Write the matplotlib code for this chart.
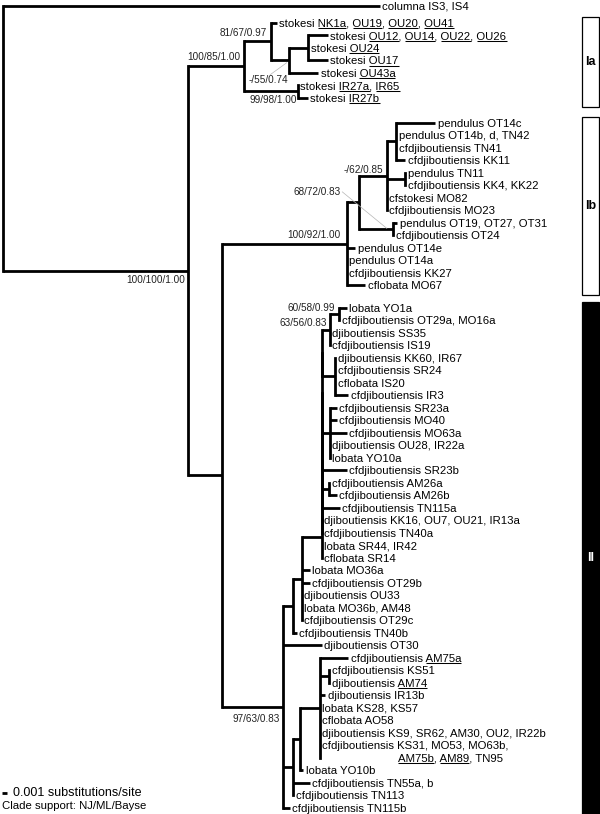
import matplotlib
matplotlib.use("Agg")
import matplotlib.pyplot as plt
from matplotlib.collections import LineCollection
from matplotlib.patches import Rectangle

plt.rcParams["font.family"] = ["Liberation Sans", "DejaVu Sans"]

W, H = 600, 814
PX = 5.0      # pixels per 0.001 substitutions/site
ROW = 12.5    # pixels per leaf row
X0, Y0 = 3.0, 6.0
FS_LEAF, FS_SUP, LW = 8.2, 7.2, 2.0


def leaf(label, bl=0.0):
    return {"label": label, "bl": bl}


def node(bl, kids, key=None, gap=0.0):
    return {"bl": bl, "kids": kids, "key": key, "gap": gap}


def caterpillar(bl, kids, tail):
    # zero-length resolution of a polytomy, as written out by the tree program
    n = kids[0]
    for k in kids[1:]:
        n = node(0.0, [n, k])
    return node(bl, [n] + tail)


# branch lengths in 0.001 substitutions/site; "_x_" = underlined code
COLUMNA = leaf("columna IS3, IS4", 75.4)

IA = node(11.2, [
    node(5.34, [
        leaf("stokesi _NK1a_, _OU19_, _OU20_, _OU41_", 1.2),
        node(3.72, [
            node(3.74, [leaf("stokesi _OU12_, _OU14_, _OU22_, _OU26_", 4.0),
                        leaf("stokesi _OU24_"),
                        leaf("stokesi _OU17_", 4.0)]),
            leaf("stokesi _OU43a_", 5.74)], key="ia2")], key="ia1"),
    node(10.8, [leaf("stokesi _IR27a_, _IR65_"),
                leaf("stokesi _IR27b_", 2.0)], key="ia3"),
], key="Ia", gap=0.33)

IB = node(25.0, [
    node(2.52, [
        node(5.48, [
            node(1.86, [leaf("pendulus OT14c", 7.8),
                        leaf("pendulus OT14b, d, TN42"),
                        leaf("cfdjiboutiensis TN41"),
                        leaf("cfdjiboutiensis KK11", 1.8)]),
            node(3.66, [leaf("pendulus TN11"),
                        leaf("cfdjiboutiensis KK4, KK22")]),
            leaf("cfstokesi MO82"),
            leaf("cfdjiboutiensis MO23")], key="ib2"),
        node(6.8, [leaf("pendulus OT19, OT27, OT31", 0.8),
                   leaf("cfdjiboutiensis OT24")], key="ib1")]),
    leaf("pendulus OT14e", 1.66),
    leaf("pendulus OT14a"),
    leaf("cfdjiboutiensis KK27"),
    leaf("cflobata MO67", 3.66),
], key="Ib", gap=1.0)

II_UPPER = caterpillar(3.94, [
    node(1.66, [
        node(1.86, [leaf("lobata YO1a", 1.48),
                    leaf("cfdjiboutiensis OT29a, MO16a")], key="ii2"),
        leaf("djiboutiensis SS35"),
        leaf("cfdjiboutiensis IS19")], key="ii1"),
    node(2.66, [leaf("djiboutiensis KK60, IR67"),
                leaf("cfdjiboutiensis SR24"),
                leaf("cflobata IS20"),
                leaf("cfdjiboutiensis IR3", 2.66)]),
    node(1.66, [leaf("cfdjiboutiensis SR23a", 1.34),
                leaf("cfdjiboutiensis MO40", 1.34),
                leaf("cfdjiboutiensis MO63a", 3.34),
                leaf("djiboutiensis OU28, IR22a"),
                leaf("lobata YO10a")]),
    leaf("cfdjiboutiensis SR23b", 5.0),
    node(1.52, [leaf("cfdjiboutiensis AM26a"),
                leaf("cfdjiboutiensis AM26b", 1.48)]),
    leaf("cfdjiboutiensis TN115a", 3.66),
    leaf("djiboutiensis KK16, OU7, OU21, IR13a"),
    leaf("cfdjiboutiensis TN40a")],
    [leaf("lobata SR44, IR42"), leaf("cflobata SR14")])

II_LOWER = node(2.0, [
    node(1.34, [
        node(4.0, [
            leaf("cfdjiboutiensis _AM75a_", 5.66),
            node(1.86, [leaf("cfdjiboutiensis KS51"),
                        leaf("djiboutiensis _AM74_")]),
            leaf("djiboutiensis IR13b", 1.0),
            leaf("lobata KS28, KS57"),
            leaf("cflobata AO58"),
            leaf("djiboutiensis KS9, SR62, AM30, OU2, IR22b"),
            leaf("cfdjiboutiensis KS31, MO53, MO63b,\n_AM75b_, _AM89_, TN95")]),
        leaf("lobata YO10b", 0.66)]),
    leaf("cfdjiboutiensis TN55a, b", 3.34),
    leaf("cfdjiboutiensis TN113")])

II = node(12.32, [
    node(2.0, [
        node(1.74, [II_UPPER,
                    leaf("lobata MO36a", 1.6),
                    leaf("cfdjiboutiensis OT29b", 1.6),
                    leaf("djiboutiensis OU33"),
                    leaf("lobata MO36b, AM48"),
                    leaf("cfdjiboutiensis OT29c")]),
        leaf("cfdjiboutiensis TN40b", 0.68)]),
    leaf("djiboutiensis OT30", 7.68),
    II_LOWER,
    leaf("cfdjiboutiensis TN115b", 1.34),
], key="II", gap=0.8)

TREE = node(0.0, [COLUMNA, node(37.0, [IA, node(6.74, [IB, II])], key="in")])

SUPPORT = {"in": "100/100/1.00", "Ia": "100/85/1.00", "ia1": "81/67/0.97",
           "ia2": "-/55/0.74", "ia3": "99/98/1.00", "Ib": "100/92/1.00",
           "ib1": "68/72/0.83", "ib2": "-/62/0.85", "ii1": "63/56/0.83",
           "ii2": "60/58/0.99", "II": "97/63/0.83"}
CLADES = [("Ia", IA, "white", "black"), ("Ib", IB, "white", "black"),
          ("II", II, "black", "white")]
SCALE_BAR = 1.0

# label placement (pixels from node: right edge, vertical centre)
SUP_POS = {"in": (-3, 9), "Ia": (-4, -9.5), "ia1": (-4, -8), "ia2": (-1.5, 20),
           "ia3": (-1, 8.7), "Ib": (-6.5, -8.5), "ib1": (-53, -37), "ib2": (-3.7, -6),
           "ii1": (-3, -7), "ii2": (-4, -6), "II": (-3, 12)}
LEADERS = {"ia2": ((-19, 14.5), (-2.6, 2.6)), "ib1": ((-51, -37), (-6.5, -0.5))}


def layout(n, x, rows):
    n["x"] = x + n["bl"]
    rows[0] += n.get("gap", 0.0)
    if "kids" in n:
        for k in n["kids"]:
            layout(k, n["x"], rows)
        n["y"] = (n["kids"][0]["y"] + n["kids"][-1]["y"]) / 2
    else:
        extra = n["label"].count("\n")
        n["y"] = rows[0] + extra      # tip sits on the last line of its label
        rows[0] += extra + 1


def walk(n):
    yield n
    for k in n.get("kids", []):
        yield from walk(k)


layout(TREE, 0.0, [0.0])
nodes = {n["key"]: n for n in walk(TREE) if n.get("key")}

fig = plt.figure(figsize=(W / 100, H / 100), dpi=100)
ax = fig.add_axes([0, 0, 1, 1])
ax.set_xlim(-X0 / PX, (W - X0) / PX)
ax.set_ylim((H - Y0) / ROW, -Y0 / ROW)
ax.axis("off")
r = fig.canvas.get_renderer()


def px2x(p):
    return (p - X0) / PX


def py2y(p):
    return (p - Y0) / ROW


def text_w(s, fs):
    t = ax.text(0, 0, s + "|", fontsize=fs); a = t.get_window_extent(r).width; t.remove()
    t = ax.text(0, 0, "|", fontsize=fs); b = t.get_window_extent(r).width; t.remove()
    return (a - b) / PX


vs, hs = [], []
for n in walk(TREE):
    if "kids" in n:
        vs.append([(n["x"], n["kids"][0]["y"]), (n["x"], n["kids"][-1]["y"])])
        for k in n["kids"]:
            if k["bl"] > 0:
                hs.append([(n["x"], k["y"]), (k["x"], k["y"])])
ax.add_collection(LineCollection(vs, colors="black", linewidths=LW, capstyle="projecting"))
ax.add_collection(LineCollection(hs, colors="black", linewidths=LW, capstyle="butt"))


def draw_label(x, y, label):
    lines = label.split("\n")
    y0 = y - (len(lines) - 1)
    for i, line in enumerate(lines):
        xl = x
        if i > 0:
            xl = x + text_w(lines[0].replace("_", "").split(" ")[0] + " ", FS_LEAF)
        yy = y0 + i + 3.9 / ROW
        ax.text(xl, yy, line.replace("_", ""), fontsize=FS_LEAF, va="baseline", ha="left")
        pos = ""
        for j, p in enumerate(line.split("_")):
            if j % 2 == 1:
                x1 = xl + text_w(pos, FS_LEAF)
                x2 = xl + text_w(pos + p, FS_LEAF)
                ax.plot([x1, x2], [yy + 1.6 / ROW] * 2, color="black", lw=0.75,
                        solid_capstyle="butt")
            pos += p


for n in walk(TREE):
    if "kids" not in n:
        draw_label(n["x"] + 2.5 / PX, n["y"], n["label"])

for key, txt in SUPPORT.items():
    n = nodes[key]
    dx, dy = SUP_POS[key]
    ax.text(n["x"] + dx / PX, n["y"] + dy / ROW, txt, ha="right", va="center",
            fontsize=FS_SUP, color="#222222")
    if key in LEADERS:
        (ax0, ay0), (ax1, ay1) = LEADERS[key]
        ax.plot([n["x"] + ax0 / PX, n["x"] + ax1 / PX],
                [n["y"] + ay0 / ROW, n["y"] + ay1 / ROW], color="#b5b5b5", lw=0.5)


def leaves(n):
    return [n] if "kids" not in n else [l for k in n["kids"] for l in leaves(k)]


for name, c, fc, tc in CLADES:
    lv = leaves(c)
    top = lv[0]["y"] - 0.45
    bot = lv[-1]["y"] + 0.75
    ax.add_patch(Rectangle((px2x(582), top), 16.5 / PX, bot - top, facecolor=fc,
                           edgecolor="black", lw=0.9))
    ax.text(px2x(590.2), (top + min(bot, py2y(H))) / 2, name, ha="center", va="center",
            fontsize=9, fontweight="bold", color=tc)

ax.plot([px2x(1.7), px2x(1.7) + SCALE_BAR], [py2y(792.7)] * 2, color="black", lw=LW,
        solid_capstyle="butt")
ax.text(px2x(12.7), py2y(792.7), "0.001 substitutions/site", fontsize=9, va="center")
ax.text(px2x(1.7), py2y(806), "Clade support: NJ/ML/Bayse", fontsize=8.2, va="center")

fig.savefig("out.png", dpi=100)
